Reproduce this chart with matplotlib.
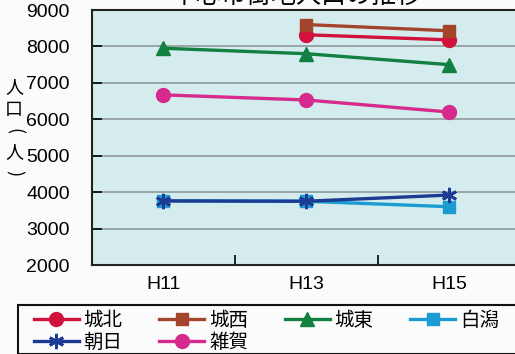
import matplotlib.pyplot as plt
from matplotlib.patches import Rectangle

plt.rcParams['font.family'] = ['Noto Sans CJK JP', 'DejaVu Sans']

# 地区別人口（人）
years = ["H11", "H13", "H15"]
jouhoku = [None, 8320, 8180]
jousei = [None, 8600, 8430]
joutou = [7950, 7800, 7500]
shirakata = [3760, 3750, 3600]
asahi = [3760, 3750, 3920]
saika = [6670, 6530, 6200]

series = [
    ("城北", jouhoku, "#d0123c", "o", 10),
    ("城西", jousei, "#a4442c", "s", 9),
    ("城東", joutou, "#118040", "^", 10),
    ("白潟", shirakata, "#1b9bd1", "s", 9),
    ("朝日", asahi, "#1c3c94", (6, 2, 0), 11),
    ("雑賀", saika, "#d62a8e", "o", 10),
]

fig = plt.figure(figsize=(5.15, 3.54), dpi=100, facecolor="#fbfbfb")
ax = fig.add_axes([92 / 515, 1 - 265 / 354, 428.5 / 515, 255 / 354])
ax.set_facecolor("#d4ecee")

x = list(range(len(years)))
handles = {}
for name, vals, col, mk, ms in series:
    pts = [(i, v) for i, v in zip(x, vals) if v is not None]
    h, = ax.plot([p[0] for p in pts], [p[1] for p in pts], color=col, lw=2.4,
                 marker=mk, markersize=ms, markeredgewidth=2 if mk == (6, 2, 0) else 1,
                 markeredgecolor=col, label=name)
    handles[name] = h

ax.set_xlim(-0.5, 2.5)
ax.set_ylim(2000, 9000)
ax.set_yticks(range(2000, 9001, 1000))
ax.set_xticks(x)
ax.set_xticklabels(years)
ax.set_xticks([0.5, 1.5], minor=True)
ax.yaxis.grid(True, color="#8f9a9a", lw=1.2)
ax.set_axisbelow(True)
ax.tick_params(axis="y", direction="in", length=7, width=1.2, pad=16)
ax.tick_params(axis="x", which="major", length=0, pad=8)
ax.tick_params(axis="x", which="minor", direction="in", length=7, width=1.2)
for lab in ax.get_yticklabels() + ax.get_xticklabels():
    lab.set_family(["Liberation Sans", "DejaVu Sans"])
    lab.set_fontsize(14)
for s in ax.spines.values():
    s.set_color("#222222")
    s.set_linewidth(1.5)

# 縦書きの軸ラベル「人口（人）」
ylab = [("人", 0, 87), ("口", 0, 110), ("(", -90, 131), ("人", 0, 152), (")", -90, 173)]
for ch, rot, py in ylab:
    fig.text(14 / 515, 1 - py / 354, ch, ha="center", va="center",
             fontsize=13, rotation=rot)

fig.text(297 / 515, 1 - 9 / 354, "中心市街地人口の推移", ha="center", va="bottom",
         fontsize=18)

# 凡例（枠は別に描く）
order = ["城北", "朝日", "城西", "雑賀", "城東", "白潟"]
leg = fig.legend(handles=[handles[n] for n in order], loc="upper left",
                 bbox_to_anchor=(30 / 515, 1 - 306 / 354), ncol=4,
                 fontsize=14, frameon=False, borderaxespad=0,
                 handlelength=2.3, handletextpad=0.25, columnspacing=1.9,
                 borderpad=0.2, labelspacing=0.05)
fig.patches.append(Rectangle((18 / 515, 0), 500 / 515, 1 - 305 / 354,
                             transform=fig.transFigure, fill=False,
                             edgecolor="#111111", lw=1.5))

fig.savefig("out.png", dpi=100, facecolor=fig.get_facecolor())
